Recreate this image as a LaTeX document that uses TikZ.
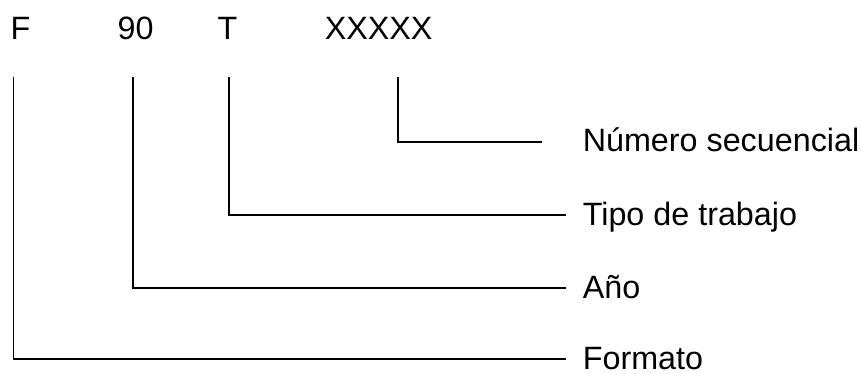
\documentclass[tikz,border=0pt]{standalone}
\usepackage{fontspec}
\setmainfont{Liberation Sans}
\begin{document}
\begin{tikzpicture}[x=1pt,y=-1pt,
  lbl/.style={anchor=base west,inner sep=0pt,font=\fontsize{32.3}{38}\selectfont},
  conn/.style={draw=black,line width=1.6pt}]
\useasboundingbox (0,0) rectangle (861,374);
% top codes
\node[lbl] (cF) at (10.3,39.5) {F};
\node[lbl] (c90) at (117.5,39.5) {90};
\node[lbl] (cT) at (217.3,39.5) {T};
\node[lbl] (cX) at (324.6,39.5) {XXXXX};
% labels
\node[lbl] (lN) at (582.6,151.5) {Número secuencial};
\node[lbl] (lT) at (582.6,225.5) {Tipo de trabajo};
\node[lbl] (lA) at (582.6,298) {Año};
\node[lbl] (lF) at (582.6,369.5) {Formato};
% connector anchors
\coordinate (tF) at (13.5,77);
\coordinate (t90) at (133,77);
\coordinate (tT) at (229,77);
\coordinate (tX) at (398,77);
\coordinate (eX) at (542,142);
\coordinate (eT) at (566,215);
\coordinate (e90) at (566,288);
\coordinate (eF) at (566,359);
\draw[conn] (tX) |- (eX);
\draw[conn] (tT) |- (eT);
\draw[conn] (t90) |- (e90);
\draw[conn] (tF) |- (eF);
\end{tikzpicture}
\end{document}
